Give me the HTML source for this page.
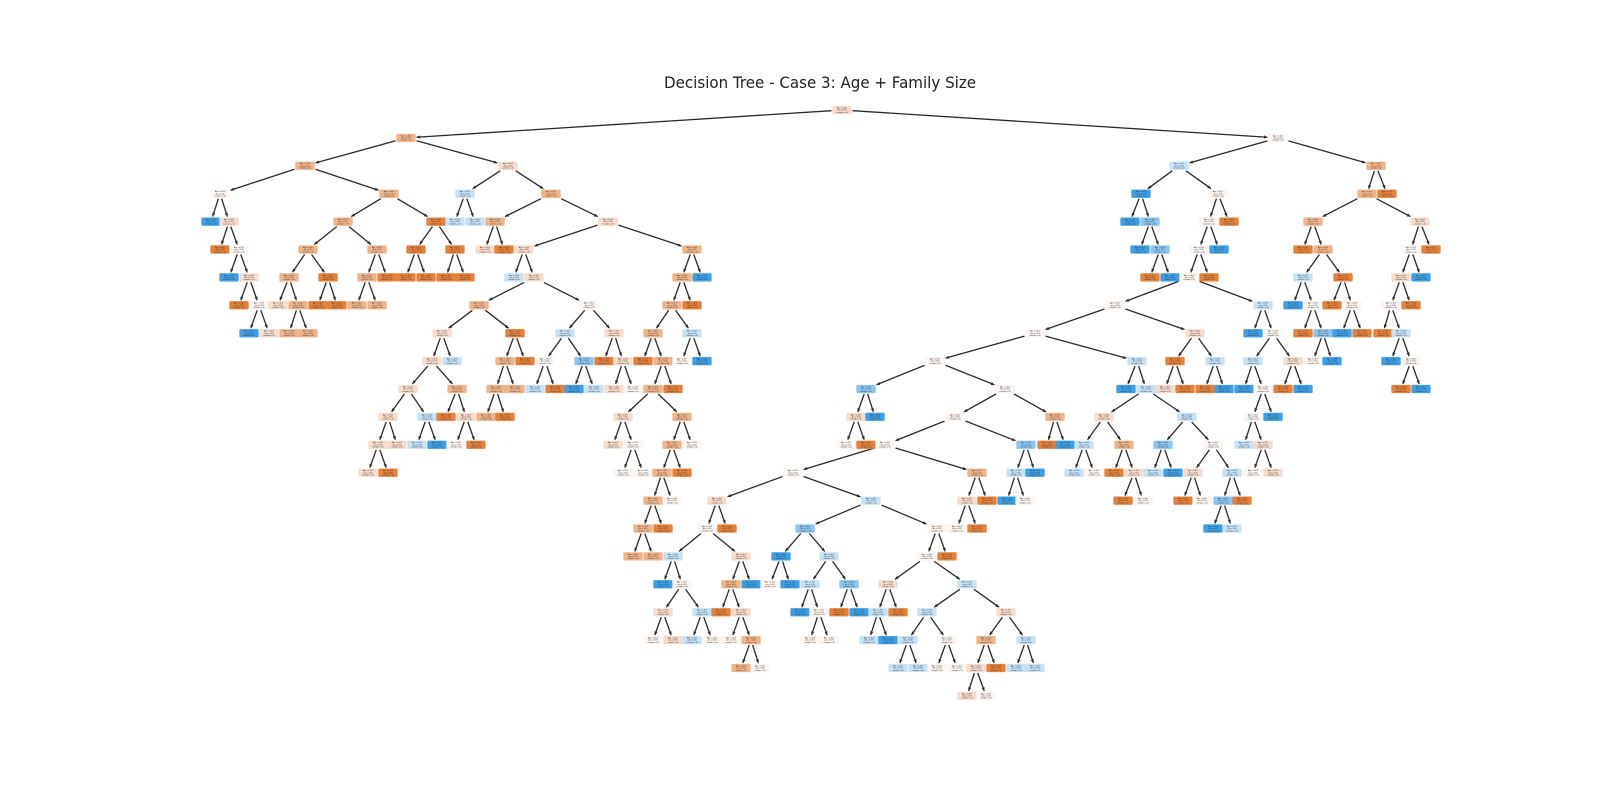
<!DOCTYPE html>
<html><head><meta charset="utf-8"><style>
html,body{margin:0;padding:0;background:#fff;width:1600px;height:800px;overflow:hidden}
svg{display:block}
</style></head><body>
<svg id="s" width="1600" height="800" viewBox="0 0 1600 800" xmlns="http://www.w3.org/2000/svg">
<rect width="1600" height="800" fill="#fff"/>
<text x="820" y="88" text-anchor="middle" font-family="DejaVu Sans, Liberation Sans, sans-serif" font-size="16" fill="#222" textLength="312" lengthAdjust="spacingAndGlyphs">Decision Tree - Case 3: Age + Family Size</text>
<g id="e"></g><g id="n"></g>
</svg>
<script>
var C={O:'#e58139',o:'#f0b489',p:'#f8dccb',w:'#fdf6f1',b:'#c6e2f7',m:'#8cc5ef',B:'#3d9fe5'};
var T=[842,'p',[
 [406,'o',[
  [305,'o',[
   [220,'w',[[211,'B'],[229,'p',[[220,'O'],[239,'w',[[229,'B'],[249,'p',[[239,'O'],[259,'w',[[249,'B'],[269,'p']]]]]]]]]]],
   [389,'o',[
    [343,'o',[
     [308,'o',[[289,'o',[[278,'p'],[298,'o',[[289,'o'],[308,'o']]]]],[328,'O',[[318,'O'],[337,'O']]]]],
     [377,'o',[[367,'o',[[357,'o'],[377,'o']]],[387,'O']]]
    ]],
    [436,'O',[[416,'O',[[406,'O'],[426,'O']]],[455,'O',[[446,'O'],[465,'O']]]]]
   ]]
  ]],
  [508,'p',[
   [465,'b',[[455,'b'],[475,'b']]],
   [551,'o',[
    [495,'o',[[485,'p'],[504,'O']]],
    [608,'p',[
     [524,'p',[[514,'b'],[534,'p',[
      [479,'o',[
       [442,'p',[
        [432,'p',[
         [408,'p',[[388,'p',[[378,'p',[[368,'p'],[388,'O']]],[397,'p']]],[427,'b',[[417,'b'],[437,'B']]]]],
         [457,'o',[[446,'O'],[466,'p',[[456,'w'],[476,'O']]]]]
        ]],
        [452,'b']
       ]],
       [515,'O',[[505,'o',[[496,'o',[[486,'o'],[505,'O']]],[515,'o']]],[525,'O']]]
      ]],
      [589,'w',[
       [565,'b',[[545,'w',[[535,'b'],[555,'O']]],[584,'m',[[574,'B'],[594,'b']]]]],
       [614,'p',[[604,'O'],[623,'p',[[614,'p'],[633,'w']]]]]
      ]]
     ]]]],
     [692,'o',[
      [682,'o',[
       [672,'o',[
        [653,'o',[
         [643,'O'],
         [663,'o',[
          [653,'o',[
           [623,'p',[[613,'p'],[633,'w',[[623,'w'],[643,'w']]]]],
           [682,'o',[[672,'o',[[662,'o',[[653,'o',[[643,'o',[[633,'o'],[653,'o']]],[663,'O']]],[672,'w']]],[682,'O']]],[692,'w']]]
          ]],
          [673,'O']
         ]]
        ]],
        [692,'b',[[682,'w'],[702,'B']]]
       ]],
       [692,'O']
      ]],
      [702,'B']
     ]]
    ]]
   ]]
  ]]
 ]],
 [1278,'w',[
  [1179,'b',[
   [1141,'B',[[1130,'B'],[1150,'m',[[1140,'B'],[1160,'m',[[1150,'O'],[1170,'B']]]]]]],
   [1218,'w',[
    [1209,'w',[
     [1199,'w',[
      [1189,'w',[
       [1115,'w',[
        [1035,'w',[
         [935,'w',[
          [866,'m',[[856,'p',[[846,'w'],[866,'O']]],[875,'B']]],
          [1005,'w',[
           [955,'w',[
            [885,'w',[
             [793,'w',[
              [717,'p',[
               [707,'w',[
                [673,'b',[[663,'B'],[682,'w',[[663,'p',[[653,'w'],[673,'p']]],[702,'b',[[692,'b'],[712,'w']]]]]]],
                [741,'p',[[731,'o',[[721,'O'],[741,'p',[[731,'w'],[751,'o',[[741,'o'],[760,'w']]]]]]],[751,'B']]]
               ]],
               [727,'O']
              ]],
              [871,'b',[
               [805,'m',[[781,'B',[[770,'w'],[790,'B']]],[829,'b',[[810,'b',[[800,'B'],[819,'w',[[810,'w'],[829,'w']]]]],[849,'m',[[839,'O'],[859,'B']]]]]]],
               [937,'w',[
                [927,'w',[
                 [888,'p',[[878,'b',[[869,'b'],[888,'B']]],[898,'O']]],
                 [967,'b',[
                  [927,'b',[[908,'b',[[898,'b'],[918,'b']]],[947,'w',[[937,'w'],[957,'w']]]]],
                  [1006,'p',[[986,'o',[[976,'p',[[967,'p'],[986,'w']]],[996,'O']]],[1026,'b',[[1016,'b'],[1035,'b']]]]]
                 ]]
                ]],
                [947,'O']
               ]]
              ]]
             ]],
             [977,'o',[[967,'p',[[957,'w'],[977,'O']]],[987,'O']]]
            ]],
            [1026,'m',[[1016,'b',[[1007,'B'],[1025,'w']]],[1035,'B']]]
           ]],
           [1055,'o',[[1047,'O'],[1065,'B']]]
          ]]
         ]],
         [1137,'b',[
          [1126,'B'],
          [1146,'b',[
           [1104,'p',[[1084,'b',[[1074,'b'],[1094,'w']]],[1124,'o',[[1114,'O'],[1134,'p',[[1123,'O'],[1143,'w']]]]]]],
           [1187,'b',[[1163,'m',[[1153,'b'],[1173,'B']]],[1213,'w',[[1193,'p',[[1183,'O'],[1202,'w']]],[1232,'b',[[1223,'m',[[1213,'B'],[1232,'b']]],[1242,'O']]]]]]]
          ]]
         ]]
        ]],
        [1195,'p',[[1175,'O',[[1165,'p'],[1185,'O']]],[1215,'b',[[1205,'O'],[1224,'B']]]]]
       ]],
       [1263,'b',[
        [1253,'B'],
        [1273,'w',[
         [1253,'b',[[1244,'B'],[1263,'w',[[1253,'w',[[1244,'b'],[1263,'p',[[1253,'w'],[1273,'p']]]]],[1273,'B']]]]],
         [1293,'p',[[1283,'O'],[1303,'B']]]
        ]]
       ]]
      ]],
      [1209,'O']
     ]],
     [1219,'B']
    ]],
    [1229,'O']
   ]]
  ]],
  [1376,'o',[
   [1367,'o',[
    [1313,'o',[
     [1303,'O'],
     [1323,'o',[
      [1303,'b',[[1293,'B'],[1313,'w',[[1303,'O'],[1323,'m',[[1313,'w'],[1332,'B']]]]]]],
      [1343,'O',[[1332,'O'],[1352,'w',[[1342,'B'],[1362,'O']]]]]
     ]]
    ]],
    [1420,'p',[
     [1411,'w',[
      [1401,'p',[[1391,'w',[[1383,'O'],[1401,'b',[[1391,'B'],[1411,'w',[[1401,'O'],[1421,'B']]]]]]],[1411,'O']]],
      [1421,'B']
     ]],
     [1431,'O']
    ]]
   ]],
   [1387,'O']
  ]]
 ]]
]];
var NS='http://www.w3.org/2000/svg',E=document.getElementById('e'),N=document.getElementById('n');
var W=19,H=8;
function el(t,a,p){var e=document.createElementNS(NS,t);for(var k in a)e.setAttribute(k,a[k]);p.appendChild(e);return e;}
function clip(x0,y0,x1,y1,cx,cy,hw,hh){
  var dx=x1-x0,dy=y1-y0,t=1e9;
  if(dx)t=Math.min(t,hw/Math.abs(dx));if(dy)t=Math.min(t,hh/Math.abs(dy));return [x0+dx*t,y0+dy*t];}
function draw(n,d){
  var x=n[0],y=110+27.9*d,c=n[1];
  el('rect',{x:x-W/2,y:y-H/2,width:W,height:H,rx:1,fill:C[c],stroke:c==='w'?'#eee':C[c],'stroke-width':0.3},N);
  var lines=['Age <= 30.5','gini = 0.48','samples = 40'];
  for(var i=0;i<3;i++){
    var t=el('text',{x:x,y:y-1.6+i*2.2,'text-anchor':'middle','font-size':1.9,'font-family':'Liberation Sans, sans-serif',fill:'#333'},N);
    t.textContent=lines[i];
  }
  if(n[2])n[2].forEach(function(ch){
    var cx=ch[0],cy=110+27.9*(d+1);
    var a=clip(x,y,cx,cy,x,y,W/2+1,H/2+1);
    var b=clip(cx,cy,x,y,cx,cy,W/2+1,H/2+1);
    el('line',{x1:a[0],y1:a[1],x2:b[0],y2:b[1],stroke:'#2a2a2a','stroke-width':1.3},E);
    var ang=Math.atan2(b[1]-a[1],b[0]-a[0]),L=3.5,w=1.6;
    var p1=[b[0]-L*Math.cos(ang)+w*Math.sin(ang),b[1]-L*Math.sin(ang)-w*Math.cos(ang)];
    var p2=[b[0]-L*Math.cos(ang)-w*Math.sin(ang),b[1]-L*Math.sin(ang)+w*Math.cos(ang)];
    el('polygon',{points:b.join(',')+' '+p1.join(',')+' '+p2.join(','),fill:'#2a2a2a'},E);
    draw(ch,d+1);
  });
}
draw(T,0);
</script>
</body></html>
